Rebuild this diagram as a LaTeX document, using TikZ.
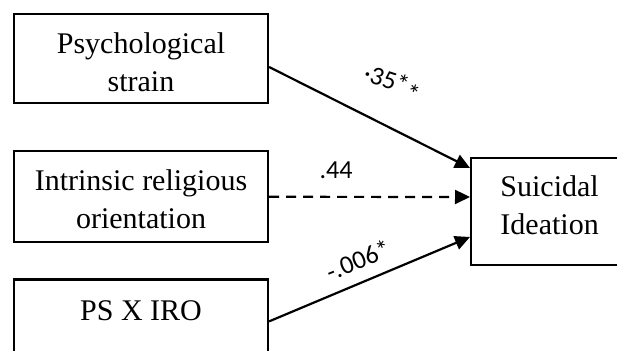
\documentclass[tikz,border=0pt]{standalone}
\usepackage{fontspec}
\setmainfont{Liberation Serif}
\newfontfamily\coeffont{Carlito}
\usepackage{tikz}
\usetikzlibrary{
  arrows.meta, % for the Triangle arrow tip
  positioning % for relative positioning of the boxes
}
\tikzset{
  box/.style={ % style for each variable
    rectangle,draw,line width=1.1pt, % drawn as a thick rectangle
    anchor=north, % placed by its top edge
    align=center, % centred lines of text
    inner xsep=0pt,inner ysep=0pt, % size is set by the keys below
    minimum width=127pt, % same width for the predictors
    font=\fontsize{15pt}{19pt}\selectfont,
    text height=38.5pt, % from the top edge to the last baseline
  },
  coef/.style={ % style for the path coefficients
    inner sep=0pt,
    font=\coeffont\fontsize{13pt}{15pt}\selectfont,
  },
  conn/.style={ % style for the paths
    -{Triangle[length=7.5pt,width=7pt]}, % filled triangle tip
    line width=1.1pt,
  },
  nsconn/.style={ % style for the non-significant path
    conn, % inherit the path style
    dash pattern=on 5pt off 3.5pt,
  },
}
\begin{document}
\begin{tikzpicture}[x=0.5pt,y=-0.5pt]
  \useasboundingbox (0,0) rectangle (617,351);
  \clip (0,0) rectangle (617,351);
  \node[box,text depth=6pt] (ps) at (141,13)
  {Psychological\\strain};
  \node[box,text depth=7pt,below=23pt of ps] (iro)
  {Intrinsic religious\\orientation};
  \node[box,text height=20.5pt,text depth=50pt,below=17.5pt of iro] (psxiro)
  {PS X IRO};
  \node[box,anchor=north west,minimum width=78.5pt,text height=38pt,text depth=15.5pt] (si) at (470,157)
  {Suicidal\\Ideation};

  \node[coef,rotate=-18] (b1) at (392,84)
  {·35*\raisebox{-3pt}{*}};
  \node[coef] (b2) at (336,170)
  {.44};
  \node[coef,rotate=22] (b3) at (358,260)
  {-.006*};

  \draw[conn] ([yshift=-27pt]ps.north east) -- ([yshift=-5.5pt]si.north west);
  \draw[nsconn] (iro.east) -- ([yshift=-20pt]si.north west);
  \draw[conn] ([yshift=-21.5pt]psxiro.north east) -- ([yshift=-40pt]si.north west);
\end{tikzpicture}
\end{document}
